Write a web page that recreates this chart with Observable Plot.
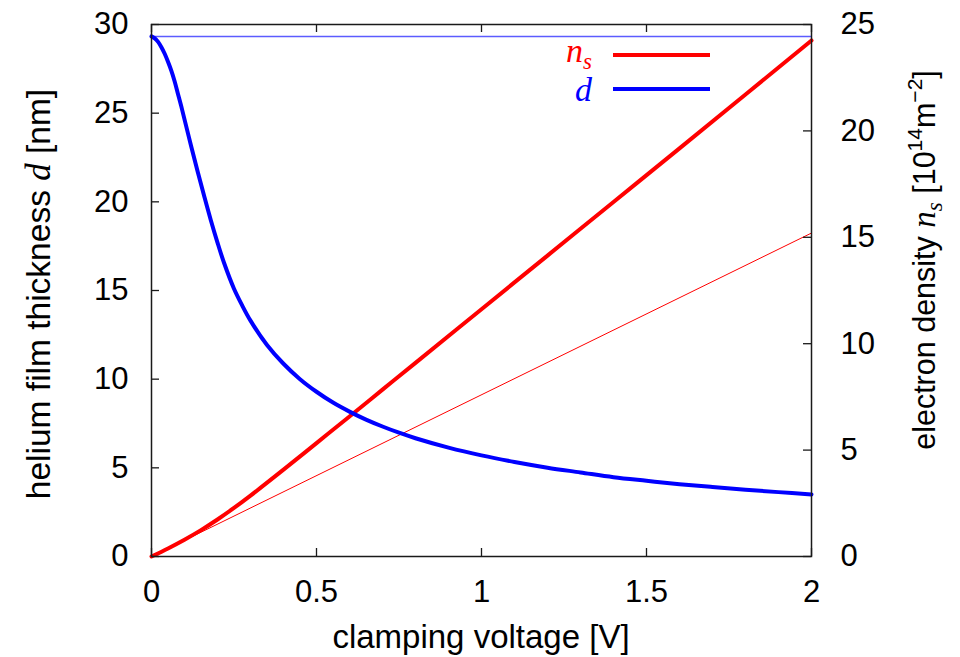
<!DOCTYPE html>
<html><head><meta charset="utf-8">
<script src="https://cdn.jsdelivr.net/npm/d3@7"></script>
<script src="https://cdn.jsdelivr.net/npm/@observablehq/plot@0.6"></script>
<style>html,body{margin:0;padding:0;background:#fff;} #chart{width:960px;height:657px;}</style>
</head><body><div id="chart"></div>
<script>
// helium film thickness d [nm] vs clamping voltage [V]
const voltageD   = [0,0.01,0.02,0.03,0.04,0.05,0.06,0.07,0.08,0.09,0.10,0.12,0.14,0.16,0.18,0.20,0.22,0.25,0.275,0.30,0.35,0.40,0.45,0.50,0.55,0.60,0.65,0.70,0.75,0.80,0.90,1.0,1.1,1.2,1.3,1.4,1.5,1.6,1.7,1.8,1.9,2.0];
const thicknessD = [29.33,29.22,29.02,28.72,28.35,27.9,27.4,26.8,26.1,25.4,24.65,23.15,21.7,20.3,18.95,17.7,16.55,15.1,14.15,13.3,11.93,10.87,10.0,9.29,8.68,8.17,7.72,7.33,6.98,6.67,6.14,5.70,5.33,5.01,4.74,4.47,4.27,4.08,3.92,3.77,3.63,3.50];
// electron density n_s [10^14 m^-2] vs clamping voltage [V]
const voltageN   = [0,0.05,0.1,0.15,0.2,0.25,0.3,0.4,0.5,0.6,0.7,0.8,1.0,1.2,1.4,1.6,1.8,2.0];
const densityN   = [0,0.38,0.79,1.24,1.74,2.28,2.86,4.08,5.33,6.58,7.84,9.1,11.62,14.14,16.66,19.18,21.71,24.25];
// linear (initial slope) electron density
const voltageLin = [0,2];
const densityLin = [0,15.2];
// zero-voltage film thickness (thin horizontal line)
const filmMax = 29.33;
// ticks
const xTicks = [0,0.5,1,1.5,2];
const leftTicks = [0,5,10,15,20,25,30];
const rightTicks = [0,5,10,15,20,25];
const leftMax = 30, rightMax = 25;

const W = 960, H = 657, mL = 151, mR = 149, mT = 24, mB = 101;
const plotW = W - mL - mR, plotH = H - mT - mB;
const k = leftMax / rightMax;

const dRows = voltageD.map((v, i) => ({v, y: thicknessD[i]}));
const nRows = voltageN.map((v, i) => ({v, y: densityN[i] * k}));
const linRows = voltageLin.map((v, i) => ({v, y: densityLin[i] * k}));
const frameColor = "#1a1a1a";
const tickFont = 31;

const chart = Plot.plot({
  width: W, height: H,
  marginLeft: mL, marginRight: mR, marginTop: mT, marginBottom: mB,
  style: {fontFamily: "'Liberation Sans', Arial, sans-serif", fontSize: "30px", background: "#fff", color: "#000"},
  x: {domain: [0, 2]},
  y: {domain: [0, leftMax]},
  marks: [
    Plot.ruleY([filmMax], {stroke: "#5c5cff", strokeWidth: 1.5}),
    Plot.line(linRows, {x: "v", y: "y", stroke: "#ff0000", strokeWidth: 1}),
    Plot.line(nRows, {x: "v", y: "y", stroke: "#ff0000", strokeWidth: 4, curve: "catmull-rom"}),
    Plot.line(dRows, {x: "v", y: "y", stroke: "#0000ff", strokeWidth: 4, curve: "catmull-rom"}),
    Plot.tickX(xTicks, {x: d => d, insetTop: plotH - 8, stroke: frameColor, strokeWidth: 1.3}),
    Plot.tickX(xTicks, {x: d => d, insetBottom: plotH - 8, stroke: frameColor, strokeWidth: 1.3}),
    Plot.tickY(leftTicks, {y: d => d, insetRight: plotW - 8, stroke: frameColor, strokeWidth: 1.3}),
    Plot.tickY(rightTicks.map(t => t * k), {y: d => d, insetLeft: plotW - 8, stroke: frameColor, strokeWidth: 1.3}),
    Plot.frame({stroke: frameColor, strokeWidth: 1.5}),
    Plot.axisX({ticks: xTicks, tickSize: 0, tickPadding: 23, label: null, tickFormat: d => String(d), fontSize: tickFont}),
    Plot.axisY({ticks: leftTicks, anchor: "left", tickSize: 0, tickPadding: 23, label: null, tickFormat: d => String(d), fontSize: tickFont}),
    Plot.axisY({ticks: rightTicks.map(t => t * k), anchor: "right", tickSize: 0, tickPadding: 29, label: null, tickFormat: d => String(Math.round(d / k)), fontSize: tickFont})
  ]
});
document.getElementById("chart").appendChild(chart);

const svg = d3.select(chart);
const serif = "'Liberation Serif','Times New Roman',serif";

// x axis label
svg.append("text").attr("x", mL + plotW / 2).attr("y", 648)
  .attr("text-anchor", "middle").attr("font-size", 33).attr("fill", "#000")
  .text("clamping voltage [V]");

// left axis label
const ly = svg.append("text")
  .attr("transform", `translate(50,${mT + plotH / 2 + 4}) rotate(-90)`)
  .attr("text-anchor", "middle").attr("font-size", 33.5).attr("fill", "#000");
ly.append("tspan").text("helium film thickness ");
ly.append("tspan").attr("font-family", serif).attr("font-style", "italic").attr("font-size", 35).text("d");
ly.append("tspan").text(" [nm]");

// right axis label
const ry = svg.append("text")
  .attr("transform", `translate(935,260) rotate(-90)`)
  .attr("text-anchor", "middle").attr("font-size", 30.5).attr("fill", "#000");
ry.append("tspan").text("electron density ");
ry.append("tspan").attr("font-family", serif).attr("font-style", "italic").attr("font-size", 33).text("n");
ry.append("tspan").attr("font-family", serif).attr("font-style", "italic").attr("font-size", 23).attr("dy", 7).text("s");
ry.append("tspan").attr("dy", -7).text(" [10");
ry.append("tspan").attr("font-size", 21).attr("dy", -13).text("14");
ry.append("tspan").attr("dy", 13).text("m");
ry.append("tspan").attr("font-size", 21).attr("dy", -13).text("\u22122");
ry.append("tspan").attr("dy", 13).text("]");

// legend
const leg = svg.append("g");
const t1 = leg.append("text").attr("x", 592).attr("y", 62).attr("text-anchor", "end")
  .attr("font-family", serif).attr("font-style", "italic").attr("fill", "#ff0000");
t1.append("tspan").attr("font-size", 34).text("n");
t1.append("tspan").attr("font-size", 23).attr("dy", 7).text("s");
leg.append("line").attr("x1", 613).attr("x2", 710).attr("y1", 55).attr("y2", 55)
  .attr("stroke", "#ff0000").attr("stroke-width", 4);
leg.append("text").attr("x", 592).attr("y", 101).attr("text-anchor", "end")
  .attr("font-family", serif).attr("font-style", "italic").attr("font-size", 34)
  .attr("fill", "#0000ff").text("d");
leg.append("line").attr("x1", 613).attr("x2", 710).attr("y1", 89).attr("y2", 89)
  .attr("stroke", "#0000ff").attr("stroke-width", 4);
</script>
</body></html>
